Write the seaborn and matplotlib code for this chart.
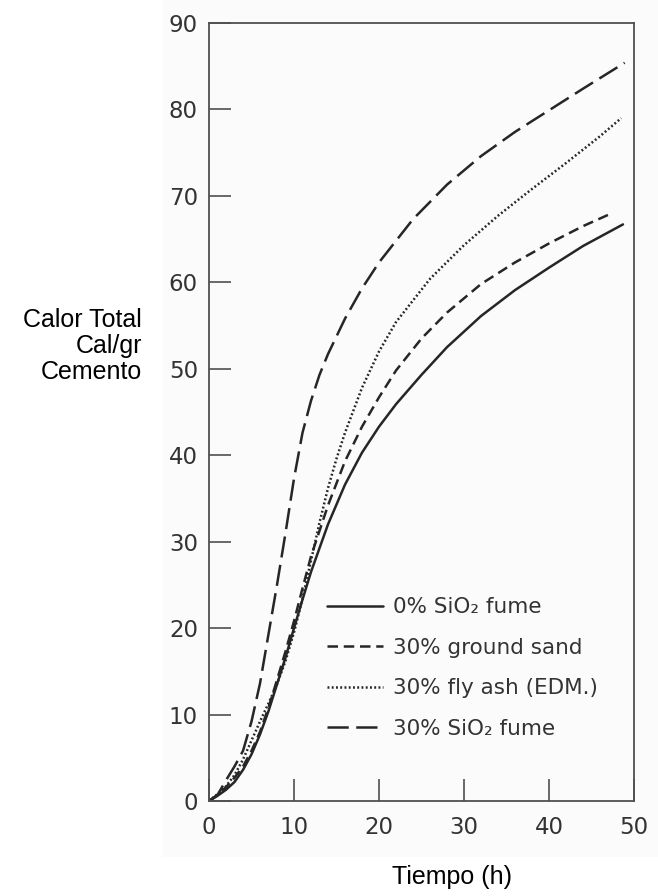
import numpy as np
import pandas as pd
import matplotlib
matplotlib.use("Agg")
import matplotlib.pyplot as plt
import seaborn as sns
from matplotlib.patches import Rectangle

# ---------------- data ----------------
series_labels = ["0% SiO₂ fume", "30% ground sand", "30% fly ash (EDM.)", "30% SiO₂ fume"]

t_fume0 = [0, 1, 2, 3, 4, 5, 6, 7, 8, 9, 10, 11, 12, 14, 16, 18, 20, 22, 25, 28, 32, 36, 40, 44, 48.7]
q_fume0 = [0, 0.6, 1.3, 2.2, 3.6, 5.4, 7.7, 10.4, 13.5, 16.6, 20.0, 23.3, 26.5, 32.0, 36.6, 40.3,
           43.3, 45.9, 49.3, 52.5, 56.1, 59.1, 61.7, 64.2, 66.7]

t_sand = [0, 1, 2, 3, 4, 5, 6, 7, 8, 9, 10, 11, 12, 14, 16, 18, 20, 22, 25, 28, 32, 36, 40, 44, 47.4]
q_sand = [0, 0.7, 1.6, 2.7, 4.0, 5.8, 8.0, 10.8, 14.0, 17.3, 20.8, 24.6, 28.3, 34.2, 39.3, 43.3,
          46.7, 49.8, 53.5, 56.5, 59.8, 62.3, 64.5, 66.5, 68.0]

t_ash = [0, 1, 2, 3, 4, 5, 6, 7, 8, 9, 10, 11, 12, 13, 14, 15, 16, 18, 20, 22, 26, 30, 34, 38, 42, 46, 48.5]
q_ash = [0, 0.8, 1.7, 3.0, 4.8, 7.0, 9.2, 11.3, 13.5, 16.2, 19.5, 23.4, 27.8, 32.2, 36.2, 39.6,
         42.6, 47.8, 52.0, 55.4, 60.4, 64.3, 67.7, 70.8, 73.8, 76.9, 79.0]

t_fume30 = [0, 1, 2, 3, 4, 5, 6, 7, 8, 9, 10, 11, 12, 13, 14, 16, 18, 20, 24, 28, 32, 36, 40, 44, 48.9]
q_fume30 = [0, 0.7, 2.4, 4.0, 5.8, 9.2, 13.6, 19.3, 25.0, 31.0, 37.3, 42.6, 46.3, 49.3, 51.7, 55.8,
            59.3, 62.3, 67.3, 71.3, 74.6, 77.4, 79.9, 82.4, 85.4]

x_ticks = [0, 10, 20, 30, 40, 50]
y_ticks = [0, 10, 20, 30, 40, 50, 60, 70, 80, 90]

df = pd.concat([
    pd.DataFrame({"t": t_fume0, "q": q_fume0, "serie": series_labels[0]}),
    pd.DataFrame({"t": t_sand, "q": q_sand, "serie": series_labels[1]}),
    pd.DataFrame({"t": t_ash, "q": q_ash, "serie": series_labels[2]}),
    pd.DataFrame({"t": t_fume30, "q": q_fume30, "serie": series_labels[3]}),
], ignore_index=True)

# ---------------- styling ----------------
sns.set_theme(style="ticks")
plt.rcParams["font.family"] = ["DejaVu Sans"]

line_col = "#262626"
spine_col = "#505050"

fig = plt.figure(figsize=(6.58, 8.96), dpi=100)
fig.patch.set_facecolor("white")
# very faint scanned-paper tint behind the original graph
fig.patches.append(Rectangle((163 / 658, 39 / 896), 1 - 163 / 658, 1 - 39 / 896,
                             transform=fig.transFigure, facecolor="#fbfbfb",
                             edgecolor="none", zorder=-10))

ax = fig.add_axes([209 / 658, (896 - 801) / 896, 425 / 658, 778 / 896])
ax.set_facecolor("none")

dashes = {
    series_labels[0]: "",
    series_labels[1]: (4.2, 2.3),
    series_labels[2]: (0.75, 0.95),
    series_labels[3]: (8.5, 3.0),
}
palette = {s: line_col for s in series_labels}

sns.lineplot(data=df, x="t", y="q", hue="serie", style="serie",
             hue_order=series_labels, style_order=series_labels,
             palette=palette, dashes=dashes, estimator=None, sort=True,
             linewidth=1.8, legend=False, ax=ax)

ax.set_xlim(0, 50)
ax.set_ylim(0, 90)
ax.set_xticks(x_ticks)
ax.set_yticks(y_ticks)
ax.set_xticklabels([str(v) for v in x_ticks])
ax.set_yticklabels([str(v) for v in y_ticks])
ax.set_xlabel("")
ax.set_ylabel("")

for sp in ax.spines.values():
    sp.set_visible(True)
    sp.set_color(spine_col)
    sp.set_linewidth(1.3)

ax.tick_params(axis="both", direction="in", length=16, width=1.2, color=spine_col,
               labelsize=16.5, labelcolor="#333333")
ax.tick_params(axis="x", pad=11)
ax.tick_params(axis="y", pad=8)

leg = ax.legend(ax.lines, series_labels, loc="upper left",
                bbox_to_anchor=(0.278, 0.262), frameon=False,
                fontsize=15.5, handlelength=2.6, handletextpad=0.45,
                labelspacing=0.95, borderpad=0, borderaxespad=0)
for txt in leg.get_texts():
    txt.set_color("#333333")

# axis titles (added text in the reference)
fig.text(142 / 658, 1 - 346 / 896, "Calor Total\nCal/gr\nCemento",
         ha="right", va="center", multialignment="right",
         fontsize=18, family=["Liberation Sans", "DejaVu Sans"], color="black",
         linespacing=1.12)
fig.text(452 / 658, 1 - 877 / 896, "Tiempo (h)", ha="center", va="center",
         fontsize=18, family=["Liberation Sans", "DejaVu Sans"], color="black")

fig.savefig("out.png", dpi=100, facecolor="white")
